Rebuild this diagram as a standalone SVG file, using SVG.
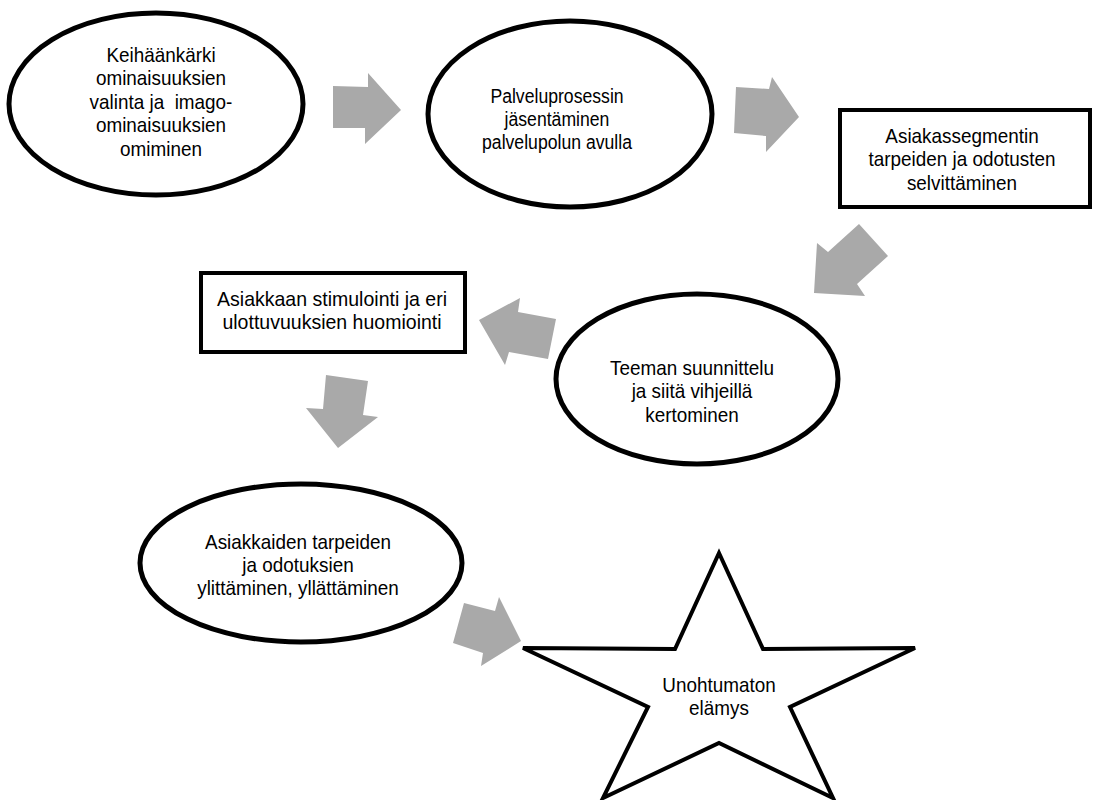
<svg xmlns="http://www.w3.org/2000/svg" width="1093" height="800" viewBox="0 0 1093 800">
<style>
.shape{fill:#ffffff;stroke:#000000;stroke-width:5}
.box{fill:#ffffff;stroke:#000000;stroke-width:4}
.arrow{fill:#a9a9a9;stroke:none}
.lbl{font-family:"Liberation Sans",Arial,sans-serif;font-size:21px;fill:#000000;text-anchor:middle}
</style>
<rect width="1093" height="800" fill="#ffffff"/>
<g id="connectors">
<polygon class="arrow" points="333,86 368,87 368,73 401,110 365,144 365,128 333,128"/>
<polygon class="arrow" points="736,87 769,89 772,77 799,117 766,152 766,136 734,133"/>
<polygon class="arrow" points="859,224 888,256 857,284 865,296 814,293 817,243 828,252"/>
<polygon class="arrow" points="479,320 520,298 518,312 556,319 548,359 509,352 505,365"/>
<polygon class="arrow" points="326,375 368,381 363,415 378,417 338,448 306,408 323,409"/>
<polygon class="arrow" points="464,603 495,611 499,597 521,641 481,666 483,653 453,643"/>
</g>
<g id="node1">
<ellipse class="shape" cx="156" cy="104" rx="147" ry="91"/>
<g class="lbl" transform="translate(161,0) scale(0.9,1)">
<text x="0" y="62">Keihäänkärki</text>
<text x="0" y="85">ominaisuuksien</text>
<text x="0" y="109" xml:space="preserve">valinta ja  imago-</text>
<text x="0" y="132">ominaisuuksien</text>
<text x="0" y="156">omiminen</text>
</g>
</g>
<g id="node2">
<ellipse class="shape" cx="570" cy="114" rx="142" ry="93"/>
<g class="lbl" transform="translate(557,0) scale(0.84,1)">
<text x="0" y="103">Palveluprosessin</text>
<text x="0" y="126">jäsentäminen</text>
<text x="0" y="149">palvelupolun avulla</text>
</g>
</g>
<g id="node3">
<rect class="box" x="840" y="110" width="250" height="97"/>
<g class="lbl" transform="translate(962,0) scale(0.9,1)">
<text x="0" y="143">Asiakassegmentin</text>
<text x="0" y="166">tarpeiden ja odotusten</text>
<text x="0" y="190">selvittäminen</text>
</g>
</g>
<g id="node4">
<ellipse class="shape" cx="697" cy="379" rx="141" ry="85"/>
<g class="lbl" transform="translate(692,0) scale(0.9,1)">
<text x="0" y="375">Teeman suunnittelu</text>
<text x="0" y="398">ja siitä vihjeillä</text>
<text x="0" y="422">kertominen</text>
</g>
</g>
<g id="node5">
<rect class="box" x="201" y="273" width="264" height="79"/>
<g class="lbl" transform="translate(332,0) scale(0.93,1)">
<text x="0" y="306">Asiakkaan stimulointi ja eri</text>
<text x="0" y="329">ulottuvuuksien huomiointi</text>
</g>
</g>
<g id="node6">
<ellipse class="shape" cx="301" cy="563" rx="161" ry="79"/>
<g class="lbl" transform="translate(298,0) scale(0.9,1)">
<text x="0" y="549">Asiakkaiden tarpeiden</text>
<text x="0" y="572">ja odotuksien</text>
<text x="0" y="595">ylittäminen, yllättäminen</text>
</g>
</g>
<g id="node7">
<polygon class="box" points="719,553 763,649 915,648 790,707 833,798 719,743 603,798 648,707 523,648 675,649"/>
<g class="lbl" transform="translate(719,0) scale(0.9,1)">
<text x="0" y="692">Unohtumaton</text>
<text x="0" y="715">elämys</text>
</g>
</g>
</svg>
